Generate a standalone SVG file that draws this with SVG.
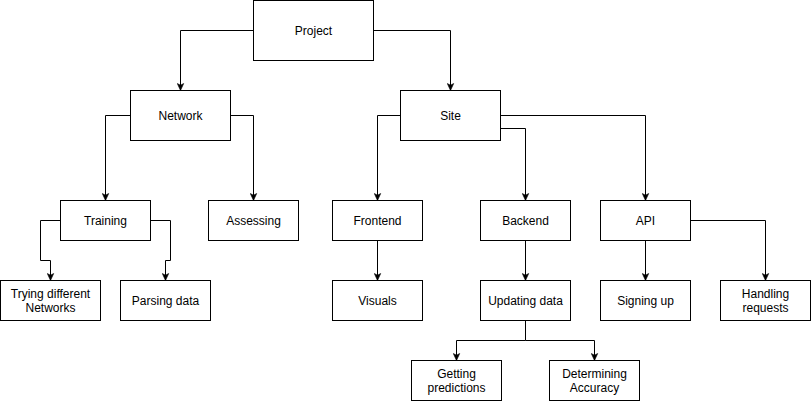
<svg xmlns="http://www.w3.org/2000/svg" width="811" height="401" viewBox="0 0 811 401">
<defs>
<marker id="arr" markerUnits="userSpaceOnUse" markerWidth="8" markerHeight="8" viewBox="0 0 8 8" refX="7.5" refY="4" orient="auto">
<path d="M0.5,0.8 L7.5,4 L0.5,7.2 L2.2,4 Z" fill="#000" stroke="#000" stroke-width="0.6"/>
</marker>
<style>
.n rect{fill:#fff;stroke:#000;stroke-width:1}
.n text{font-family:"Liberation Sans",Arial,sans-serif;font-size:12px;fill:#000;text-anchor:middle}
.c path{fill:none;stroke:#000;stroke-width:1;marker-end:url(#arr)}
</style>
</defs>
<rect width="811" height="401" fill="#fff"/>
<g class="c" id="connectors">
<path d="M253.5,30.5 H180.5 V90.5"/>
<path d="M373.5,30.5 H450.5 V90.5"/>
<path d="M130.5,115.5 H105.5 V200.5"/>
<path d="M230.5,115.5 H253.5 V200.5"/>
<path d="M400.5,115.5 H377.5 V200.5"/>
<path d="M500.5,128.5 H525.5 V200.5"/>
<path d="M500.5,115.5 H645.5 V200.5"/>
<path d="M60.5,220.5 H40.5 V260.5 H50.5 V280.5"/>
<path d="M150.5,220.5 H170.5 V260.5 H165.5 V280.5"/>
<path d="M377.5,240.5 V280.5"/>
<path d="M525.5,240.5 V280.5"/>
<path d="M645.5,240.5 V280.5"/>
<path d="M690.5,220.5 H765.5 V280.5"/>
<path d="M525.5,320.5 V340.5 H456.5 V360.5"/>
<path d="M525.5,340.5 H594.5 V360.5"/>
</g>
<g class="n" id="project"><rect x="253.5" y="0.5" width="120" height="60"/><text x="313.5" y="34.5">Project</text></g>
<g class="n" id="network"><rect x="130.5" y="90.5" width="100" height="50"/><text x="180.5" y="119.5">Network</text></g>
<g class="n" id="site"><rect x="400.5" y="90.5" width="100" height="50"/><text x="450.5" y="119.5">Site</text></g>
<g class="n" id="training"><rect x="60.5" y="200.5" width="90" height="40"/><text x="105.5" y="224.5">Training</text></g>
<g class="n" id="assessing"><rect x="208.5" y="200.5" width="90" height="40"/><text x="253.5" y="224.5">Assessing</text></g>
<g class="n" id="frontend"><rect x="332.5" y="200.5" width="90" height="40"/><text x="377.5" y="224.5">Frontend</text></g>
<g class="n" id="backend"><rect x="480.5" y="200.5" width="90" height="40"/><text x="525.5" y="224.5">Backend</text></g>
<g class="n" id="api"><rect x="600.5" y="200.5" width="90" height="40"/><text x="645.5" y="224.5">API</text></g>
<g class="n" id="trying"><rect x="0.5" y="280.5" width="100" height="40"/><text x="50.5" y="297.5">Trying different</text><text x="50.5" y="311.5">Networks</text></g>
<g class="n" id="parsing"><rect x="120.5" y="280.5" width="90" height="40"/><text x="165.5" y="304.5">Parsing data</text></g>
<g class="n" id="visuals"><rect x="332.5" y="280.5" width="90" height="40"/><text x="377.5" y="304.5">Visuals</text></g>
<g class="n" id="updating"><rect x="480.5" y="280.5" width="90" height="40"/><text x="525.5" y="304.5">Updating data</text></g>
<g class="n" id="signing"><rect x="600.5" y="280.5" width="90" height="40"/><text x="645.5" y="304.5">Signing up</text></g>
<g class="n" id="handling"><rect x="720.5" y="280.5" width="90" height="40"/><text x="765.5" y="297.5">Handling</text><text x="765.5" y="311.5">requests</text></g>
<g class="n" id="getting"><rect x="411.5" y="360.5" width="90" height="40"/><text x="456.5" y="377.5">Getting</text><text x="456.5" y="391.5">predictions</text></g>
<g class="n" id="determining"><rect x="549.5" y="360.5" width="90" height="40"/><text x="594.5" y="377.5">Determining</text><text x="594.5" y="391.5">Accuracy</text></g>
</svg>
